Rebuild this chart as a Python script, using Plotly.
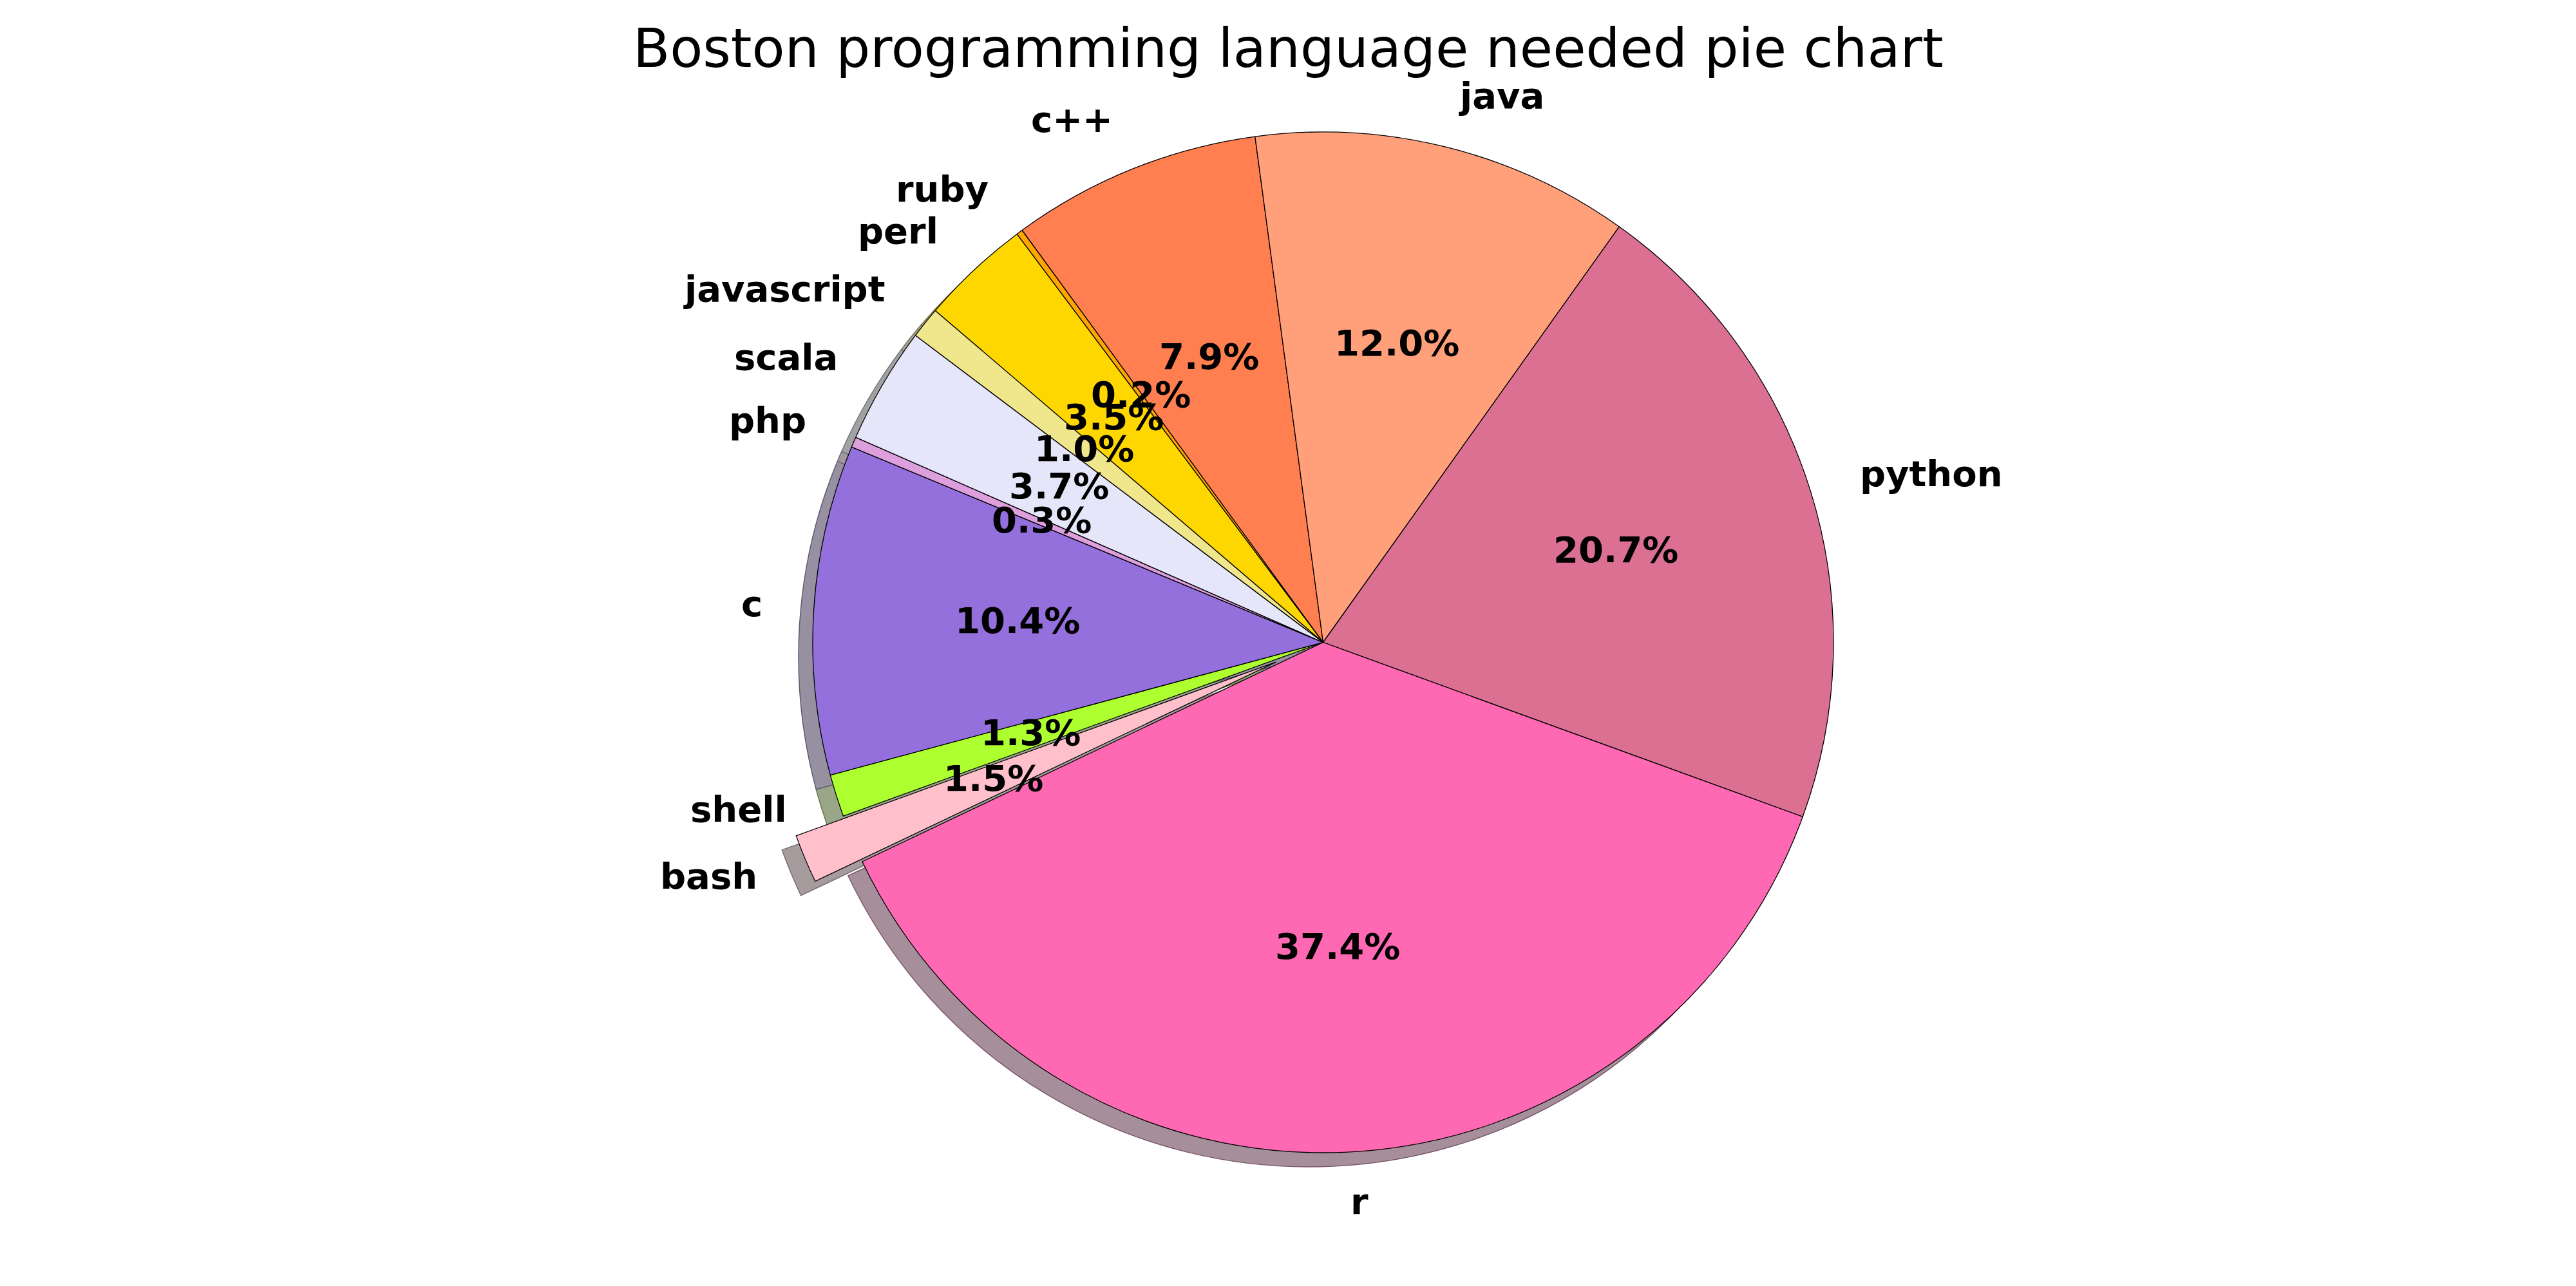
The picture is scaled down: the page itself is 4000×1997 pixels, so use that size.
import math
import plotly.graph_objects as go

# ---- data (matplotlib order, counterclockwise from start angle) ----
# shares (percent of total)
labels = ["javascript", "scala", "php", "c", "shell", "bash", "r",
          "python", "java", "c++", "ruby", "perl"]
shares = [0.99, 3.69, 0.33, 10.44, 1.34, 1.54, 37.38, 20.70, 11.98, 7.91, 0.20, 3.50]
colors = ["#F0E68C", "#E6E6FA", "#DDA0DD", "#9370DB", "#ADFF2F", "#FFC0CB",
          "#FF69B4", "#DB7093", "#FFA07A", "#FF7F50", "#FFA500", "#FFD700"]
explode = [0, 0, 0, 0, 0, 0.1, 0, 0, 0, 0, 0, 0]
start_angle = 139.46
title_text = "Boston programming language needed pie chart"

# ---- geometry ----
W, H = 4000, 1997
CX, CY = 2054.5, 997.5      # pie centre in pixels
R = 792.5                   # pie radius in pixels
SHADOW = 22                 # shadow offset in pixels
LABEL_FS = 56
TITLE_FS = 83.5
FONT = "DejaVu Sans"

maxpull = max(explode)
half = R * (1 + maxpull)
dom_x = [(CX - half) / W, (CX + half) / W]
dom_y = [1 - (CY + half) / H, 1 - (CY - half) / H]
sdom_x = [dom_x[0] - SHADOW / W, dom_x[1] - SHADOW / W]
sdom_y = [dom_y[0] - SHADOW / H, dom_y[1] - SHADOW / H]


def hex_rgb(h):
    h = h.lstrip("#")
    return [int(h[i:i + 2], 16) for i in (0, 2, 4)]


def shadow_fill(h):
    r, g, b = hex_rgb(h)
    return "rgb(%d,%d,%d)" % tuple(round(0.15 * c + 127.5) for c in (r, g, b))


def shadow_edge(h):
    r, g, b = hex_rgb(h)
    return "rgb(%d,%d,%d)" % tuple(round(0.225 * c + 63.75) for c in (r, g, b))


# plotly draws clockwise here; reverse the matplotlib counterclockwise order
rev = lambda a: list(reversed(a))
rotation = 90 - start_angle

fig = go.Figure()
fig.add_trace(go.Pie(
    labels=rev(labels), values=rev(shares), pull=rev(explode),
    sort=False, direction="clockwise", rotation=rotation,
    domain=dict(x=sdom_x, y=sdom_y),
    marker=dict(colors=[shadow_fill(c) for c in rev(colors)],
                line=dict(color=[shadow_edge(c) for c in rev(colors)], width=1.5)),
    textinfo="none", hoverinfo="skip", showlegend=False,
))
fig.add_trace(go.Pie(
    labels=rev(labels), values=rev(shares), pull=rev(explode),
    sort=False, direction="clockwise", rotation=rotation,
    domain=dict(x=dom_x, y=dom_y),
    marker=dict(colors=rev(colors), line=dict(color="black", width=1.3)),
    textinfo="none", hoverinfo="skip", showlegend=False,
))

# ---- matplotlib-style labels (1.1 R) and percentages (0.6 R) ----
total = sum(shares)
annotations = []
cum = 0.0
yshift = 0.056 * LABEL_FS
for lab, p, ex in zip(labels, shares, explode):
    t1 = start_angle + 360 * cum / total
    cum += p
    t2 = start_angle + 360 * cum / total
    m = math.radians((t1 + t2) / 2)
    ox, oy = ex * R * math.cos(m), ex * R * math.sin(m)
    # label
    lx = CX + ox + 1.1 * R * math.cos(m)
    ly = CY - oy - 1.1 * R * math.sin(m) - yshift
    annotations.append(dict(
        x=lx / W, y=1 - ly / H, xref="paper", yref="paper",
        text=lab, showarrow=False,
        xanchor="left" if math.cos(m) > 0 else "right", yanchor="middle",
        font=dict(family=FONT, size=LABEL_FS, color="black", weight="bold"),
        borderpad=0,
    ))
    # percentage
    px = CX + ox + 0.6 * R * math.cos(m)
    py = CY - oy - 0.6 * R * math.sin(m) - yshift
    annotations.append(dict(
        x=px / W, y=1 - py / H, xref="paper", yref="paper",
        text="%.1f%%" % (100 * p / total), showarrow=False,
        xanchor="center", yanchor="middle",
        font=dict(family=FONT, size=LABEL_FS, color="black", weight="bold"),
        borderpad=0,
    ))

# title
annotations.append(dict(
    x=0.5, y=1 - 75.3 / H, xref="paper", yref="paper",
    text=title_text, showarrow=False, xanchor="center", yanchor="middle",
    font=dict(family=FONT, size=TITLE_FS, color="black"), borderpad=0,
))

fig.update_layout(
    width=W, height=H, autosize=False,
    margin=dict(l=0, r=0, t=0, b=0),
    paper_bgcolor="white", plot_bgcolor="white",
    annotations=annotations,
)

fig.write_html("out.html")
